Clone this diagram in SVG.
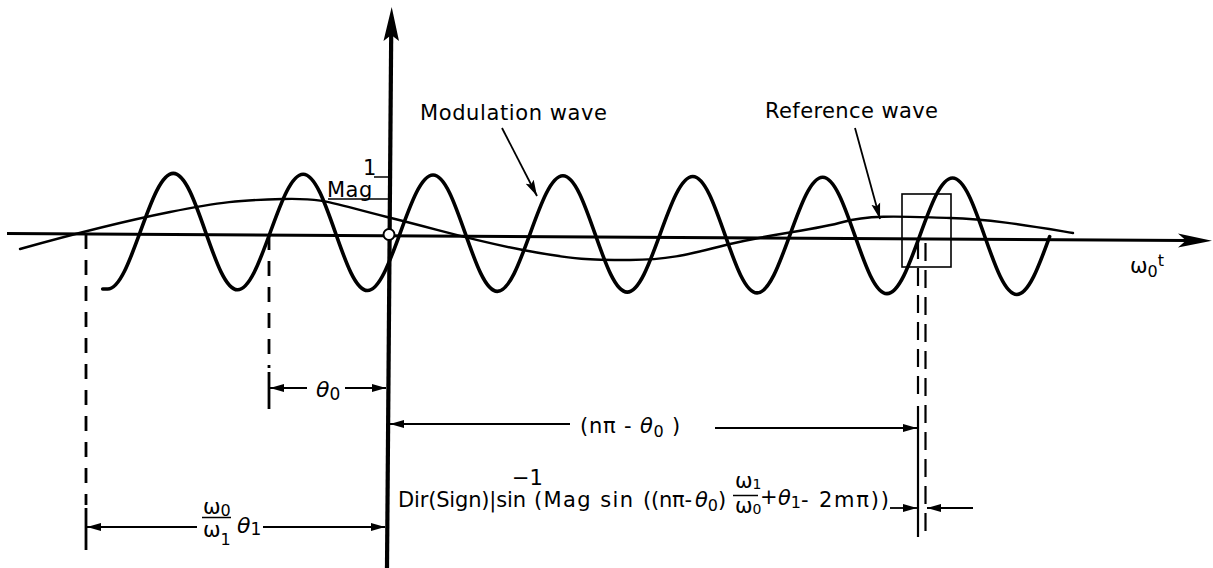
<svg xmlns="http://www.w3.org/2000/svg" width="1213" height="568" viewBox="0 0 1213 568">
<defs>
<style>
.t{font-family:"DejaVu Sans","Liberation Sans",sans-serif;font-size:21px;fill:#000}
.it{font-style:italic}
.dim{stroke:#000;stroke-width:1.8;fill:none}
.dash1{stroke:#000;stroke-width:2.8;fill:none;stroke-dasharray:15 11}
.dash2{stroke:#000;stroke-width:2.2;fill:none;stroke-dasharray:18 9}
.thin{stroke:#000;stroke-width:1.5;fill:none}
</style>
<marker id="ah" viewBox="0 0 14 10" refX="14" refY="5" markerWidth="14" markerHeight="10" orient="auto" markerUnits="userSpaceOnUse"><path d="M0,1 L14,5 L0,9 z" fill="#000"/></marker>
<marker id="ah2" viewBox="0 0 16 10" refX="16" refY="5" markerWidth="16" markerHeight="10" orient="auto" markerUnits="userSpaceOnUse"><path d="M0,0.5 L16,5 L0,9.5 L3,5 z" fill="#000"/></marker>
</defs>
<rect width="1213" height="568" fill="#fff"/>

<g id="axes">
<line x1="7" y1="233.5" x2="1186" y2="240.5" stroke="#000" stroke-width="3"/>
<polygon points="1212,240.7 1178,233.5 1186,240.5 1178,247.5" fill="#000"/>
<line x1="387" y1="568" x2="391.2" y2="34" stroke="#000" stroke-width="4.2"/>
<polygon points="391.7,7 383.5,41 391.3,35 399,41" fill="#000"/>
<text class="t" x="1130" y="273">ω<tspan font-size="16" dy="4">0</tspan><tspan font-size="16" dy="-11">t</tspan></text>
</g>

<g id="reference-wave" transform="rotate(0.34 389 236)">
<path fill="none" stroke="#000" stroke-width="3.6" stroke-linecap="round" d="M103,290.7 L108,290.7 c11.75,0 21.88,-28.29 32.47,-58
s20.72,-58 32.47,-58 s21.88,28.29 32.47,58 s20.72,58 32.47,58 s21.88,-28.29 32.47,-58
s20.72,-58 32.47,-58 s21.88,28.29 32.47,58 s20.72,58 32.47,58 s21.88,-28.29 32.47,-58
s20.72,-58 32.47,-58 s21.88,28.29 32.47,58 s20.72,58 32.47,58 s21.88,-28.29 32.47,-58
s20.72,-58 32.47,-58 s21.88,28.29 32.47,58 s20.72,58 32.47,58 s21.88,-28.29 32.47,-58
s20.72,-58 32.47,-58 s21.88,28.29 32.47,58 s20.72,58 32.47,58 s21.88,-28.29 32.47,-58
s20.72,-58 32.47,-58 s21.88,28.29 32.47,58 s20.72,58 32.47,58 s21.88,-28.29 32.47,-58
s20.72,-58 32.47,-58 s21.88,28.29 32.47,58 s20.72,58 32.47,58 s21.88,-28.29 32.47,-58"/>
</g>

<g id="modulation-wave">
<path fill="none" stroke="#000" stroke-width="2.4" stroke-linecap="round" d="M20,249 C70,235 120,222 170,212 S240,200 283,199 S330,203 387,217 S470,240 523,250 S590,260 630,260 S690,254 730,244 S815,230 843,222 S910,217 950,218 S1030,226 1073,233"/>
</g>

<g id="origin">
<circle cx="389" cy="234.5" r="5.5" fill="#fff" stroke="#000" stroke-width="2"/>
</g>

<g id="level-marks">
<line class="thin" x1="374" y1="177" x2="389" y2="177"/>
<text class="t" x="363" y="175" font-size="21">1</text>
<line class="thin" x1="328" y1="199" x2="389" y2="199"/>
<text class="t" x="327" y="197" font-size="19" letter-spacing="0.5">Mag</text>
</g>

<g id="window">
<rect x="902" y="194" width="49" height="73" fill="none" stroke="#000" stroke-width="1.6"/>
</g>

<g id="labels">
<text class="t" x="420" y="120" font-size="22" letter-spacing="0.6">Modulation wave</text>
<text class="t" x="765" y="118" font-size="22" letter-spacing="0.4">Reference wave</text>
</g>

<g id="connectors">
<line class="dim" x1="502" y1="128" x2="537" y2="196" marker-end="url(#ah2)"/>
<line class="dim" x1="855" y1="128" x2="880" y2="219" marker-end="url(#ah2)"/>
<line class="dash1" x1="86" y1="234" x2="86" y2="505"/>
<line x1="86" y1="508" x2="86" y2="550" stroke="#000" stroke-width="2.8"/>
<line class="dash1" x1="269" y1="235" x2="269" y2="368"/>
<line x1="269" y1="372" x2="269" y2="409" stroke="#000" stroke-width="2.8"/>
<line class="dash2" x1="918" y1="241" x2="918" y2="402"/>
<line x1="918" y1="406" x2="918" y2="537" stroke="#000" stroke-width="2.2"/>
<line class="dash2" x1="925.5" y1="243" x2="925.5" y2="537"/>
<line class="dim" x1="307" y1="388" x2="270" y2="388" marker-end="url(#ah)"/>
<line class="dim" x1="345" y1="388" x2="386" y2="388" marker-end="url(#ah)"/>
<line class="dim" x1="570" y1="424" x2="390" y2="424" marker-end="url(#ah)"/>
<line class="dim" x1="715" y1="428" x2="917" y2="428" marker-end="url(#ah)"/>
<line class="dim" x1="890" y1="508" x2="917" y2="508" marker-end="url(#ah)"/>
<line class="dim" x1="973" y1="508" x2="927" y2="508" marker-end="url(#ah)"/>
<line class="dim" x1="197" y1="527" x2="87" y2="527" marker-end="url(#ah)"/>
<line class="dim" x1="263" y1="527" x2="385" y2="527" marker-end="url(#ah)"/>
</g>

<g id="dimension-labels">
<text class="t" x="316" y="397"><tspan class="it" font-size="22">θ</tspan><tspan font-size="17" dy="3">0</tspan></text>
<text class="t" x="580" y="433" font-size="22" letter-spacing="0.8">(nπ - <tspan class="it">θ</tspan><tspan font-size="16" dy="4">0</tspan><tspan dy="-4"> )</tspan></text>
<text class="t" x="203" y="514" font-size="19">ω<tspan font-size="16" dy="2">0</tspan></text>
<line class="thin" x1="202" y1="517.5" x2="231" y2="517.5"/>
<text class="t" x="203" y="537" font-size="19">ω<tspan font-size="16" dy="8">1</tspan></text>
<text class="t" x="237" y="533"><tspan class="it" font-size="22">θ</tspan><tspan font-size="17" dy="2">1</tspan></text>
<text class="t" x="398" y="507" font-size="22" textLength="128" lengthAdjust="spacing">Dir(Sign)|sin</text>
<text class="t" x="512" y="485" font-size="15">−1</text>
<text class="t" x="534" y="507" font-size="22" textLength="99" lengthAdjust="spacing">(Mag sin</text>
<text class="t" x="643" y="507" font-size="22" textLength="49" lengthAdjust="spacing">((nπ-</text>
<text class="t" x="695" y="507" font-size="22"><tspan class="it">θ</tspan><tspan font-size="16" dy="4">0</tspan><tspan dy="-4">)</tspan></text>
<text class="t" x="735" y="488" font-size="17">ω<tspan font-size="14" dy="1">1</tspan></text>
<line class="thin" x1="733" y1="495.5" x2="758" y2="495.5"/>
<text class="t" x="735" y="513" font-size="17">ω<tspan font-size="14" dy="1">0</tspan></text>
<text class="t" x="760" y="504" font-size="18">+</text>
<text class="t" x="778" y="505" font-size="22"><tspan class="it">θ</tspan><tspan font-size="16" dy="3">1</tspan></text>
<text class="t" x="801" y="507" font-size="22" textLength="88" lengthAdjust="spacing">- 2mπ))</text>
</g>
</svg>
